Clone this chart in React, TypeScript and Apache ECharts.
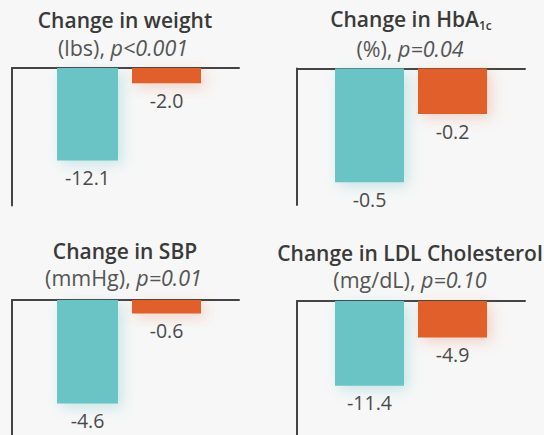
import React, { useEffect, useRef } from "react";
import * as echarts from "echarts";

// ---- data ----
const categories = ["Group A", "Group B"];
const panelTitles = ["Change in weight", "Change in HbA", "Change in SBP", "Change in LDL Cholesterol"];
const titleSubscripts = ["", "1c", "", ""];
const units = ["(lbs)", "(%)", "(mmHg)", "(mg/dL)"];
const pValues = ["p<0.001", "p=0.04", "p=0.01", "p=0.10"];
const tealValues = [-12.1, -0.5, -4.6, -11.4];
const orangeValues = [-2.0, -0.2, -0.6, -4.9];
const axisMins = [-18, -0.6, -6, -18];

// ---- layout (pixels) ----
const layout = [
  { L: 12, R: 239, T: 68, H: 137.5, gL: 48, gR: 206, wA: 61, wB: 69, tx: 125, ty: 19.5, sx: 123, sy: 47 },
  { L: 297, R: 525, T: 68.5, H: 136.5, gL: 328, gR: 494, wA: 69, wB: 69, tx: 411, ty: 18.5, sx: 410, sy: 48 },
  { L: 12, R: 239, T: 300, H: 136, gL: 48, gR: 206, wA: 61, wB: 69, tx: 125, ty: 251, sx: 123.5, sy: 277.3 },
  { L: 297, R: 525, T: 301, H: 137, gL: 328, gR: 494, wA: 69, wB: 69, tx: 410, ty: 252.5, sx: 410, sy: 279.3 },
];

const TEAL = "#6BC4C5";
const ORANGE = "#E05E2B";
const AXIS = "#444444";
const FONT = "'Open Sans'";

export default function App() {
  const ref = useRef<HTMLDivElement>(null);
  useEffect(() => {
    document.body.style.margin = "0";
    document.body.style.background = "#F7F7F7";
    const chart = echarts.init(ref.current!, null, { renderer: "svg" });
    const grid: any[] = [];
    const xAxis: any[] = [];
    const yAxis: any[] = [];
    const series: any[] = [];
    const graphic: any[] = [];
    layout.forEach((p, i) => {
      grid.push({ left: p.gL, top: p.T, width: p.gR - p.gL, height: p.H });
      grid.push({ left: p.L, top: p.T, width: p.R - p.L, height: p.H });
      const gA = 2 * i;
      const gB = 2 * i + 1;
      xAxis.push({ type: "category", gridIndex: gA, data: categories, show: false });
      xAxis.push({ type: "category", gridIndex: gA, data: categories, show: false });
      xAxis.push({
        type: "value", gridIndex: gB, min: 0, max: 1, position: "top",
        axisLine: { show: true, onZero: false, lineStyle: { color: AXIS, width: 2 } },
        axisTick: { show: false }, axisLabel: { show: false }, splitLine: { show: false },
      });
      yAxis.push({ type: "value", gridIndex: gA, min: axisMins[i], max: 0, show: false });
      yAxis.push({
        type: "value", gridIndex: gB, min: axisMins[i], max: 0,
        axisLine: { show: true, onZero: false, lineStyle: { color: AXIS, width: 2 } },
        axisTick: { show: false }, axisLabel: { show: false }, splitLine: { show: false },
      });
      const label = {
        show: true, position: "bottom", distance: 7,
        fontFamily: FONT, fontSize: 19.5, color: "#4a4a4a",
        formatter: (q: any) => Number(q.value).toFixed(1),
      };
      series.push({
        type: "bar", xAxisIndex: 3 * i, yAxisIndex: gA, barWidth: p.wA,
        data: [tealValues[i], "-"],
        itemStyle: { color: TEAL, shadowBlur: 14, shadowColor: "rgba(107,196,197,0.35)", shadowOffsetX: 4, shadowOffsetY: 4 },
        label,
      });
      series.push({
        type: "bar", xAxisIndex: 3 * i + 1, yAxisIndex: gA, barWidth: p.wB,
        data: ["-", orangeValues[i]],
        itemStyle: { color: ORANGE, shadowBlur: 14, shadowColor: "rgba(224,94,43,0.25)", shadowOffsetX: 4, shadowOffsetY: 4 },
        label,
      });
      const sub = titleSubscripts[i];
      graphic.push({
        type: "text", x: p.tx, y: p.ty,
        style: {
          text: sub ? `{t|${panelTitles[i]}}{s|${sub}}` : `{t|${panelTitles[i]}}`,
          align: "center", verticalAlign: "middle",
          rich: {
            t: { fontFamily: FONT, fontWeight: 600, fontSize: 21, fill: "#3a3a3a", lineHeight: 26 },
            s: { fontFamily: FONT, fontWeight: 600, fontSize: 12, fill: "#3a3a3a", lineHeight: 26, verticalAlign: "bottom" },
          },
        },
      });
      graphic.push({
        type: "text", x: p.sx, y: p.sy,
        style: {
          text: `{u|${units[i]}, }{i|${pValues[i]}}`,
          align: "center", verticalAlign: "middle",
          rich: {
            u: { fontFamily: FONT, fontSize: 21.5, fill: "#555555" },
            i: { fontFamily: FONT, fontSize: 21.5, fontStyle: "italic", fill: "#555555" },
          },
        },
      });
    });
    chart.setOption({
      animation: false,
      backgroundColor: "#F7F7F7",
      grid, xAxis, yAxis, series, graphic,
    });
    return () => chart.dispose();
  }, []);
  return <div ref={ref} style={{ position: "fixed", left: 0, top: 0, width: 544, height: 435, background: "#F7F7F7" }} />;
}
